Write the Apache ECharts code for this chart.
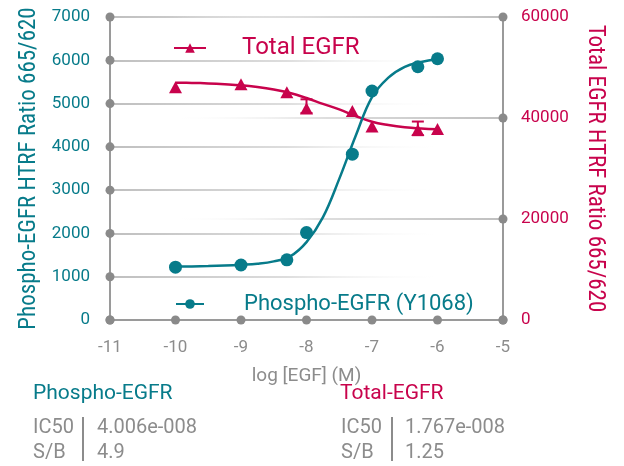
<!DOCTYPE html>
<html>
<head>
<meta charset="utf-8">
<script src="https://cdn.jsdelivr.net/npm/echarts@6/dist/echarts.min.js"></script>
<style>
html,body{margin:0;padding:0;background:#fff;}
#chart{width:624px;height:466px;}
</style>
</head>
<body>
<div id="chart"></div>
<script>
// ---- data ----
const xTicks = [-11, -10, -9, -8, -7, -6, -5];
const leftTicks = [0, 1000, 2000, 3000, 4000, 5000, 6000, 7000];
const rightTicks = [0, 20000, 40000, 60000];

const doseLog = [-10, -9, -8.3, -8, -7.3, -7, -6.3, -6];
const phosphoRatio = [1220, 1270, 1390, 2020, 3830, 5290, 5850, 6035];
const totalRatio = [46100, 46700, 45100, 41900, 41400, 38300, 37600, 37800];
const totalErrLow = [null, null, null, 41000, null, null, 36600, null];
const totalErrHigh = [null, null, null, 43700, null, null, 39300, null];

const fitX = [-10, -9.75, -9.5, -9.25, -9, -8.75, -8.5, -8.25, -8, -7.75, -7.5, -7.25, -7, -6.75, -6.5, -6.25, -6];
const phosphoFit = [1235, 1238, 1245, 1257, 1275, 1300, 1355, 1470, 1800, 2370, 3260, 4250, 5150, 5600, 5850, 5960, 6030];
const totalFit = [47000, 46950, 46850, 46700, 46500, 46150, 45650, 44950, 43950, 42800, 41700, 40400, 39250, 38600, 38150, 37900, 37750];

const phosphoName = 'Phospho-EGFR (Y1068)';
const totalName = 'Total EGFR';

// ---- style ----
const TEAL = '#077b8a';
const RED = '#c8034c';
const GRAY = '#8c8c8c';
const AXIS = '#9a9a9a';
const NARROW = "'Roboto Condensed','Liberation Sans Narrow','Arial Narrow','DejaVu Sans Condensed',Roboto,sans-serif";

const zip = (a, b) => a.map((v, i) => [v, b[i]]);
const plain = v => String(v);

const chart = echarts.init(document.getElementById('chart'), null, {renderer: 'canvas'});

const fadeRight = {type: 'linear', x: 0, y: 0, x2: 1, y2: 0,
  colorStops: [{offset: 0, color: '#a9a9a9'}, {offset: 0.45, color: '#d2d2d2'}, {offset: 0.85, color: 'rgba(255,255,255,0)'}]};
const fadeLeft = {type: 'linear', x: 0, y: 0, x2: 1, y2: 0,
  colorStops: [{offset: 0.15, color: 'rgba(255,255,255,0)'}, {offset: 0.55, color: '#d2d2d2'}, {offset: 1, color: '#a9a9a9'}]};

const errData = doseLog.map((x, i) => [x, totalErrLow[i], totalErrHigh[i]]).filter(d => d[1] != null);

const option = {
  animation: false,
  backgroundColor: '#fff',
  grid: {left: 110, right: 121, top: 17, bottom: 146, containLabel: false},
  legend: [
    {
      data: [totalName],
      left: 168, top: 31,
      itemWidth: 32, itemHeight: 12,
      textStyle: {color: RED, fontSize: 24, fontFamily: 'Roboto', padding: [0, 0, 0, 31]},
      selectedMode: false
    },
    {
      data: [phosphoName],
      left: 170, top: 288,
      itemWidth: 28, itemHeight: 12,
      textStyle: {color: TEAL, fontSize: 22, fontFamily: 'Roboto', padding: [0, 0, 0, 35]},
      selectedMode: false
    }
  ],
  xAxis: {
    type: 'value', min: xTicks[0], max: xTicks[xTicks.length - 1], interval: 1,
    name: 'log [EGF] (M)', nameLocation: 'middle', nameGap: 47,
    nameTextStyle: {color: GRAY, fontSize: 19, fontFamily: 'Roboto'},
    axisLine: {show: true, onZero: false, lineStyle: {color: AXIS, width: 2}},
    axisTick: {show: false},
    axisLabel: {color: GRAY, fontSize: 17, fontFamily: 'Roboto', margin: 19, formatter: plain},
    splitLine: {show: false}
  },
  yAxis: [
    {
      type: 'value', min: leftTicks[0], max: leftTicks[leftTicks.length - 1], interval: 1000,
      position: 'left',
      name: 'Phospho-EGFR HTRF Ratio 665/620', nameLocation: 'middle', nameGap: 69,
      nameTextStyle: {color: TEAL, fontSize: 23, fontFamily: NARROW},
      axisLine: {show: true, lineStyle: {color: AXIS, width: 2}},
      axisTick: {show: false},
      axisLabel: {color: TEAL, fontSize: 17, fontFamily: 'Roboto', margin: 20, formatter: plain},
      splitLine: {show: true, lineStyle: {color: fadeRight, width: 1.5}}
    },
    {
      type: 'value', min: rightTicks[0], max: rightTicks[rightTicks.length - 1], interval: 20000,
      position: 'right',
      name: 'Total EGFR HTRF Ratio 665/620', nameLocation: 'middle', nameGap: 80, nameRotate: -90,
      nameTextStyle: {color: RED, fontSize: 23, fontFamily: NARROW},
      axisLine: {show: true, lineStyle: {color: AXIS, width: 2}},
      axisTick: {show: false},
      axisLabel: {color: RED, fontSize: 17, fontFamily: 'Roboto', margin: 18, formatter: plain},
      splitLine: {show: true, lineStyle: {color: fadeLeft, width: 1.5}}
    }
  ],
  series: [
    {
      name: 'axisDots', type: 'scatter', silent: true, z: 1,
      symbol: 'circle', symbolSize: 9,
      itemStyle: {color: '#8a8a8a', opacity: 1},
      data: leftTicks.map(v => [xTicks[0], v]).concat(xTicks.map(x => [x, leftTicks[0]]))
    },
    {
      name: 'axisDotsRight', type: 'scatter', silent: true, z: 1, yAxisIndex: 1,
      symbol: 'circle', symbolSize: 9,
      itemStyle: {color: '#8a8a8a', opacity: 1},
      data: rightTicks.map(v => [xTicks[xTicks.length - 1], v])
    },
    {
      name: totalName, type: 'line', yAxisIndex: 1, z: 3,
      smooth: 0.4, showSymbol: false, symbol: 'triangle', symbolSize: 10,
      lineStyle: {color: RED, width: 2.5}, itemStyle: {color: RED},
      data: zip(fitX, totalFit)
    },
    {
      name: phosphoName, type: 'line', yAxisIndex: 0, z: 3,
      smooth: 0.4, showSymbol: false, symbol: 'circle', symbolSize: 10,
      lineStyle: {color: TEAL, width: 2.5}, itemStyle: {color: TEAL},
      data: zip(fitX, phosphoFit)
    },
    {
      name: 'totalErr', type: 'custom', yAxisIndex: 1, z: 4, silent: true,
      data: errData,
      renderItem: function (params, api) {
        const x = api.value(0);
        const lo = api.coord([x, api.value(1)]);
        const hi = api.coord([x, api.value(2)]);
        const hw = 6;
        const st = {stroke: RED, lineWidth: 2};
        return {type: 'group', children: [
          {type: 'line', shape: {x1: lo[0], y1: lo[1], x2: hi[0], y2: hi[1]}, style: st},
          {type: 'line', shape: {x1: lo[0] - hw, y1: lo[1], x2: lo[0] + hw, y2: lo[1]}, style: st},
          {type: 'line', shape: {x1: hi[0] - hw, y1: hi[1], x2: hi[0] + hw, y2: hi[1]}, style: st}
        ]};
      }
    },
    {
      name: 'totalPts', type: 'scatter', yAxisIndex: 1, z: 5,
      symbol: 'triangle', symbolSize: [13, 12],
      itemStyle: {color: RED, opacity: 1},
      data: zip(doseLog, totalRatio)
    },
    {
      name: 'phosphoPts', type: 'scatter', yAxisIndex: 0, z: 5,
      symbol: 'circle', symbolSize: 13,
      itemStyle: {color: TEAL, opacity: 1},
      data: zip(doseLog, phosphoRatio)
    }
  ],
  graphic: [
    {type: 'text', left: 33, top: 383, style: {text: 'Phospho-EGFR', fill: TEAL, font: '21px Roboto'}},
    {type: 'text', left: 33, top: 418, style: {text: 'IC50', fill: GRAY, font: '20px Roboto'}},
    {type: 'text', left: 33, top: 443, style: {text: 'S/B', fill: GRAY, font: '20px Roboto'}},
    {type: 'text', left: 97, top: 418, style: {text: '4.006e-008', fill: GRAY, font: '20px Roboto'}},
    {type: 'text', left: 97, top: 443, style: {text: '4.9', fill: GRAY, font: '20px Roboto'}},
    {type: 'rect', left: 82, top: 417, shape: {width: 2, height: 44}, style: {fill: GRAY}},
    {type: 'text', left: 340, top: 383, style: {text: 'Total-EGFR', fill: RED, font: '21px Roboto'}},
    {type: 'text', left: 341, top: 418, style: {text: 'IC50', fill: GRAY, font: '20px Roboto'}},
    {type: 'text', left: 341, top: 443, style: {text: 'S/B', fill: GRAY, font: '20px Roboto'}},
    {type: 'text', left: 405, top: 418, style: {text: '1.767e-008', fill: GRAY, font: '20px Roboto'}},
    {type: 'text', left: 405, top: 443, style: {text: '1.25', fill: GRAY, font: '20px Roboto'}},
    {type: 'rect', left: 391, top: 417, shape: {width: 2, height: 44}, style: {fill: GRAY}}
  ]
};
chart.setOption(option);
</script>
</body>
</html>
